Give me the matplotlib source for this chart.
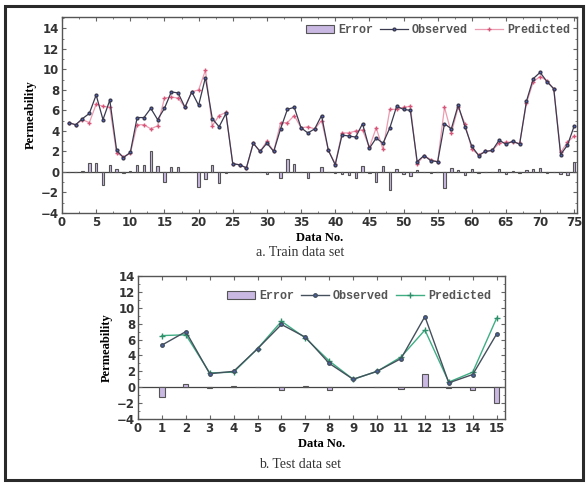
import numpy as np
import matplotlib
matplotlib.use('Agg')
import matplotlib.pyplot as plt
import matplotlib.ticker as mticker
from matplotlib.patches import Rectangle
from matplotlib.font_manager import FontProperties

# Train data set (points 1..75)
train_no = list(range(1, 76))
train_obs = [4.8, 4.6, 5.2, 5.7, 7.5, 5.1, 7.0, 2.1, 1.4, 1.9,
             5.3, 5.3, 6.2, 5.1, 6.2, 7.8, 7.7, 6.3, 7.8, 6.5,
             9.2, 5.2, 4.4, 5.7, 0.8, 0.7, 0.4, 2.8, 2.0, 2.8,
             2.0, 4.2, 6.1, 6.3, 4.3, 3.8, 4.2, 5.5, 2.1, 0.7,
             3.6, 3.5, 3.4, 4.7, 2.3, 3.3, 2.8, 4.3, 6.4, 6.1,
             6.0, 1.0, 1.6, 1.1, 1.0, 4.7, 4.2, 6.5, 4.4, 2.5,
             1.6, 2.0, 2.1, 3.1, 2.7, 3.0, 2.7, 6.9, 9.1, 9.7,
             8.8, 8.1, 1.7, 2.6, 4.5]
train_pred = [4.8, 4.6, 5.1, 4.8, 6.6, 6.4, 6.3, 1.8, 1.5, 1.8,
              4.6, 4.6, 4.2, 4.5, 7.2, 7.3, 7.2, 6.3, 7.8, 8.0,
              9.9, 4.5, 5.5, 5.8, 0.8, 0.7, 0.4, 2.8, 2.0, 3.0,
              2.0, 4.8, 4.8, 5.5, 4.3, 4.4, 4.2, 5.0, 2.1, 0.8,
              3.8, 3.8, 4.0, 4.1, 2.4, 4.3, 2.2, 6.1, 6.1, 6.3,
              6.4, 0.8, 1.6, 1.2, 1.0, 6.3, 3.8, 6.3, 4.7, 2.2,
              1.7, 2.0, 2.1, 2.8, 2.9, 2.9, 2.8, 6.7, 8.8, 9.3,
              8.9, 8.1, 1.9, 2.9, 3.5]

# Test data set (points 1..15)
test_no = list(range(1, 16))
test_obs = [5.3, 7.0, 1.7, 2.0, 4.85, 7.9, 6.3, 3.0, 1.0, 2.0, 3.6, 8.9, 0.55, 1.6, 6.7]
test_pred = [6.5, 6.6, 1.8, 1.9, 4.85, 8.3, 6.2, 3.3, 1.0, 2.0, 3.8, 7.2, 0.65, 1.9, 8.7]

train_err = np.array(train_obs) - np.array(train_pred)
test_err = np.array(test_obs) - np.array(test_pred)

tick_font = FontProperties(family='DejaVu Sans', weight='bold', size=8.5)
lab_font = {'family': 'Liberation Serif', 'weight': 'bold', 'size': 9}
cap_font = {'family': 'Liberation Serif', 'size': 10}
leg_font = FontProperties(family='Liberation Mono', weight='bold', size=8.5)

bar_face = '#c9b8e2'
bar_edge = '#555555'


def style_axes(ax, xmax, xmajor):
    ax.set_yticks(range(-4, 15, 2))
    ax.xaxis.set_major_locator(mticker.MultipleLocator(xmajor))
    ax.xaxis.set_minor_locator(mticker.AutoMinorLocator(2))
    ax.yaxis.set_minor_locator(mticker.MultipleLocator(1))
    ax.set_xlim(0, xmax)
    ax.tick_params(which='both', direction='in', top=True, right=True,
                   color='#666666')
    ax.tick_params(which='major', length=3, pad=2)
    ax.tick_params(which='minor', length=1.5)
    for lbl in ax.get_xticklabels() + ax.get_yticklabels():
        lbl.set_fontproperties(tick_font)
        lbl.set_color('#333333')
    for sp in ax.spines.values():
        sp.set_color('#555555')
        sp.set_linewidth(1.0)
    ax.axhline(0, color='#444444', lw=0.9, zorder=1)


def add_legend(ax, handles, pad):
    ax.legend(handles, ['Error', 'Observed', 'Predicted'], loc='upper right',
              ncol=3, frameon=False, prop=leg_font, handlelength=2.4,
              columnspacing=0.6, handletextpad=0.3, borderaxespad=pad,
              labelcolor='#555555')


fig = plt.figure(figsize=(5.87, 4.83), dpi=100)
fig.patches.append(Rectangle((5 / 587, 3 / 483), 578 / 587, 474 / 483,
                             transform=fig.transFigure, fill=False,
                             edgecolor='#2a2a2a', lw=2.2))

# Train axes
ax1 = fig.add_axes([62 / 587, 1 - 213 / 483, 515 / 587, 196 / 483])
b1 = ax1.bar(train_no, train_err, width=0.35, color=bar_face, edgecolor=bar_edge,
             lw=0.8, zorder=2)
o1, = ax1.plot(train_no, train_obs, color='#3a3a50', lw=0.9, marker='o', ms=2,
               mfc='#4c63c8', mec='#3a3a50', zorder=4)
p1, = ax1.plot(train_no, train_pred, color='#eb9cb0', lw=0.9, marker='+', ms=3.5,
               mec='#d8557a', zorder=3)
ax1.set_ylim(-4, 15.1)
style_axes(ax1, 75.4, 5)
ax1.set_ylabel('Permeability', fontdict=lab_font, labelpad=3)
ax1.set_xlabel('Data No.', fontdict=lab_font, labelpad=2)
add_legend(ax1, [b1, o1, p1], 0.2)

# Test axes
ax2 = fig.add_axes([138 / 587, 1 - 419 / 483, 367 / 587, 143 / 483])
b2 = ax2.bar(test_no, test_err, width=0.22, color=bar_face, edgecolor=bar_edge,
             lw=0.8, zorder=2)
o2, = ax2.plot(test_no, test_obs, color='#44505c', lw=1.0, marker='o', ms=2.5,
               mfc='#4a62b0', mec='#44505c', zorder=4)
p2, = ax2.plot(test_no, test_pred, color='#3fae84', lw=1.0, marker='+', ms=4,
               mec='#2f8f6a', zorder=3)
ax2.set_ylim(-4, 14)
style_axes(ax2, 15.35, 1)
ax2.xaxis.set_minor_locator(mticker.NullLocator())
ax2.set_ylabel('Permeability', fontdict=lab_font, labelpad=3)
ax2.set_xlabel('Data No.', fontdict=lab_font, labelpad=2)
add_legend(ax2, [b2, o2, p2], 0.8)

fig.text(300 / 587, 1 - 253 / 483, 'a. Train data set', ha='center', va='center',
         fontdict=cap_font, color='#333333')
fig.text(300 / 587, 1 - 465 / 483, 'b. Test data set', ha='center', va='center',
         fontdict=cap_font, color='#333333')

fig.savefig('out.png', dpi=100, facecolor='white')
